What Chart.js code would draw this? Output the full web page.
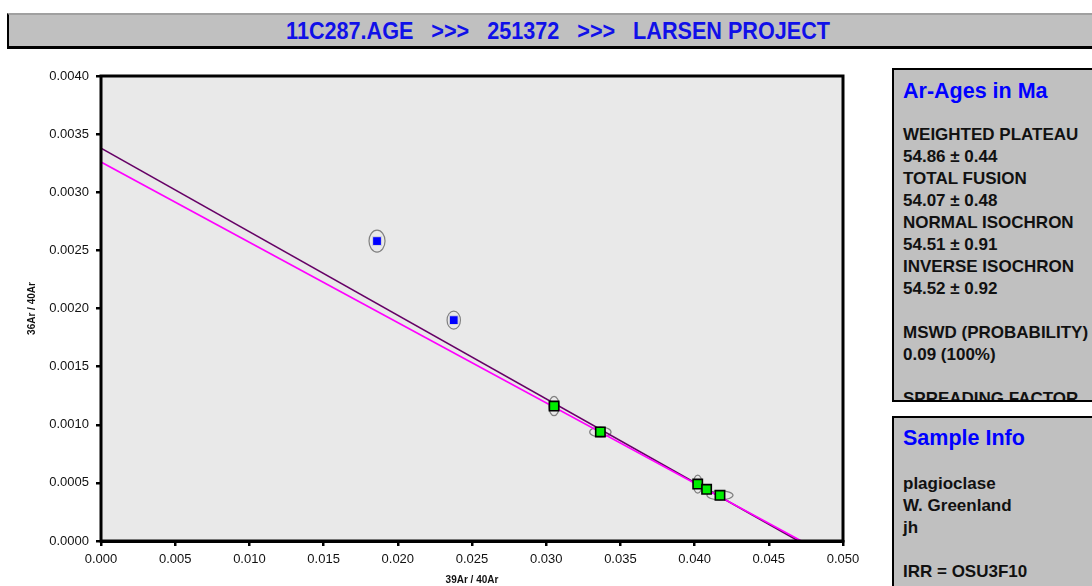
<!DOCTYPE html>
<html>
<head>
<meta charset="utf-8">
<script src="https://cdn.jsdelivr.net/npm/chart.js@4/dist/chart.umd.min.js"></script>
<style>
  body { margin: 0; width: 1092px; height: 586px; overflow: hidden; background: #fff;
         font-family: 'Liberation Sans', Arial, sans-serif; position: relative; }
  #titlebar { position: absolute; left: 7px; top: 13px; width: 1100px; height: 31px;
              background: #c0c0c0; border: 2px solid #000; border-top-color: #a0a0a0; border-bottom-width: 3px;
              line-height: 31px; color: #1010e8; font-weight: bold;
              font-family: 'Liberation Sans', Arial, sans-serif;
              font-size: 24px; white-space: pre; }
  #titlebar span { position: absolute; left: 549px; top: 0; transform: translateX(-50%) scaleX(0.9); }
  .panel { position: absolute; left: 892px; width: 220px; background: #c0c0c0;
           border: 2px solid #000; overflow: hidden; box-sizing: border-box; }
  .panel h2 { margin: 0; font-size: 21.5px; line-height: 26px; color: #0000ff; font-weight: bold; }
  .panel .body { font-size: 17px; line-height: 22px; font-weight: bold; color: #111; white-space: pre; }
  #ages { top: 68px; height: 334px; padding: 8px 0 0 9px; }
  #ages .body { margin-top: 20px; }
  #info { top: 416px; height: 200px; padding: 7px 0 0 9px; }
  #info .body { margin-top: 22px; }
  #wrap { position: absolute; left: 0; top: 60px; width: 880px; height: 526px; }
</style>
</head>
<body>
<div id="titlebar"><span>11C287.AGE   &gt;&gt;&gt;   251372   &gt;&gt;&gt;   LARSEN PROJECT</span></div>
<div class="panel" id="ages">
  <h2>Ar-Ages in Ma</h2>
  <div class="body">WEIGHTED PLATEAU
54.86 ± 0.44
TOTAL FUSION
54.07 ± 0.48
NORMAL ISOCHRON
54.51 ± 0.91
INVERSE ISOCHRON
54.52 ± 0.92

MSWD (PROBABILITY)
0.09 (100%)

SPREADING FACTOR</div>
</div>
<div class="panel" id="info">
  <h2>Sample Info</h2>
  <div class="body">plagioclase
W. Greenland
jh

IRR = OSU3F10</div>
</div>
<div id="wrap"><canvas id="iso" width="880" height="526"></canvas></div>
<script>
// steps left out of the isochron fit (blue)
const outX = [0.0186, 0.02377];
const outY = [0.00258, 0.00190];
const outErrX = [0.00054, 0.00045];
const outErrY = [0.0000946, 0.0000775];

// steps used in the fit (green)
const fitX = [0.03053, 0.03365, 0.04021, 0.04081, 0.04171];
const fitY = [0.001161, 0.000938, 0.00049, 0.000445, 0.000393];
const fitErrX = [0.00035, 0.00072, 0.0003, 0.00025, 0.00088];
const fitErrY = [0.000083, 0.000043, 0.0000775, 0.00003, 0.0000387];

// regression lines: y intercept at x = 0 and x intercept at y = 0
const lineA = [[0, 0.00338], [0.0470, 0]];
const lineB = [[0, 0.00326], [0.0472, 0]];

const xTickLabels = ['0.000', '0.005', '0.010', '0.015', '0.020', '0.025', '0.030', '0.035', '0.040', '0.045', '0.050'];
const yTickLabels = ['0.0000', '0.0005', '0.0010', '0.0015', '0.0020', '0.0025', '0.0030', '0.0035', '0.0040'];

const toPoints = (xs, ys) => xs.map((x, i) => ({ x: x, y: ys[i] }));

Chart.defaults.font.family = "'Liberation Sans', Arial, sans-serif";
Chart.defaults.color = '#000';

// grey plot background and black frame
const plotFrame = {
  id: 'plotFrame',
  beforeDatasetsDraw(chart) {
    const { ctx, chartArea: a } = chart;
    ctx.save();
    ctx.fillStyle = '#e9e9e9';
    ctx.fillRect(a.left, a.top, a.right - a.left, a.bottom - a.top);
    ctx.restore();
  },
  afterDraw(chart) {
    const { ctx, chartArea: a } = chart;
    ctx.save();
    ctx.strokeStyle = '#000';
    ctx.lineWidth = 3;
    ctx.strokeRect(a.left, a.top, a.right - a.left, a.bottom - a.top);
    ctx.restore();
  }
};

// error ellipses drawn around each step
const errorEllipses = {
  id: 'errorEllipses',
  beforeDatasetsDraw(chart) {
    const { ctx, scales: { x, y } } = chart;
    ctx.save();
    ctx.strokeStyle = '#808080';
    ctx.lineWidth = 1.2;
    chart.data.datasets.forEach(ds => {
      if (!ds.errX) return;
      ds.data.forEach((p, i) => {
        const cx = x.getPixelForValue(p.x);
        const cy = y.getPixelForValue(p.y);
        const rx = Math.abs(x.getPixelForValue(p.x + ds.errX[i]) - cx);
        const ry = Math.abs(y.getPixelForValue(p.y + ds.errY[i]) - cy);
        ctx.beginPath();
        ctx.ellipse(cx, cy, rx, ry, 0, 0, Math.PI * 2);
        ctx.stroke();
      });
    });
    ctx.restore();
  }
};

new Chart(document.getElementById('iso'), {
  type: 'scatter',
  data: {
    datasets: [
      {
        label: 'fit',
        data: toPoints(fitX, fitY),
        errX: fitErrX, errY: fitErrY,
        pointStyle: 'rect', pointRadius: 6.6,
        backgroundColor: '#00ee00', borderColor: '#000', borderWidth: 1.6
      },
      {
        label: 'excluded',
        data: toPoints(outX, outY),
        errX: outErrX, errY: outErrY,
        pointStyle: 'rect', pointRadius: 6.2,
        backgroundColor: '#0000ff', borderColor: '#d8d8d8', borderWidth: 1
      },
      {
        label: 'normal',
        type: 'line',
        data: lineB.map(p => ({ x: p[0], y: p[1] })),
        borderColor: '#ff00ff', borderWidth: 1.6, pointRadius: 0, fill: false
      },
      {
        label: 'inverse',
        type: 'line',
        data: lineA.map(p => ({ x: p[0], y: p[1] })),
        borderColor: '#660066', borderWidth: 1.6, pointRadius: 0, fill: false
      }
    ]
  },
  options: {
    responsive: false,
    devicePixelRatio: 1,
    animation: false,
    layout: { padding: { left: 0, top: 16, right: 37, bottom: 0 } },
    plugins: { legend: { display: false }, tooltip: { enabled: false } },
    scales: {
      x: {
        type: 'linear', min: 0, max: 0.05,
        afterBuildTicks: s => { s.ticks = xTickLabels.map(t => ({ value: parseFloat(t) })); },
        afterFit: s => { s.height = 45; },
        ticks: { callback: (v, i) => xTickLabels[i], font: { size: 13 }, padding: 6, maxRotation: 0, color: '#111' },
        grid: { drawOnChartArea: false, color: '#000', lineWidth: 2.5, tickLength: 5 },
        border: { color: '#000', width: 3 },
        title: { display: true, text: '39Ar / 40Ar', font: { size: 10, weight: 'bold' }, padding: { top: 0, bottom: 0 }, color: '#111' }
      },
      y: {
        type: 'linear', min: 0, max: 0.004,
        afterBuildTicks: s => { s.ticks = yTickLabels.map(t => ({ value: parseFloat(t) })); },
        afterFit: s => { s.width = 101; },
        ticks: { callback: (v, i) => yTickLabels[i], font: { size: 13 }, padding: 7, color: '#111' },
        grid: { drawOnChartArea: false, color: '#000', lineWidth: 2.5, tickLength: 5 },
        border: { color: '#000', width: 3 },
        title: { display: true, text: '36Ar / 40Ar', font: { size: 10, weight: 'bold' }, padding: { top: 26, bottom: 0 }, color: '#111' }
      }
    }
  },
  plugins: [plotFrame, errorEllipses]
});
</script>
</body>
</html>
